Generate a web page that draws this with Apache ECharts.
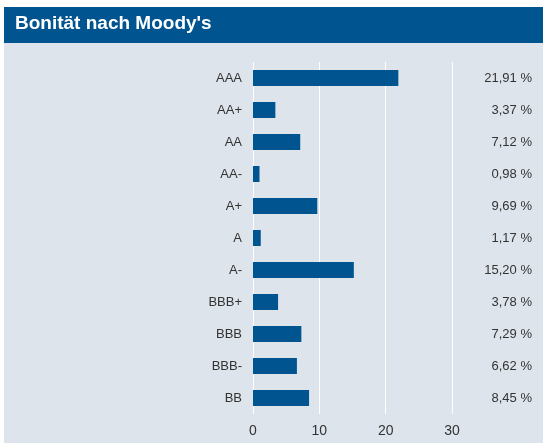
<!DOCTYPE html>
<html>
<head>
<meta charset="utf-8">
<script src="https://cdn.jsdelivr.net/npm/echarts@6/dist/echarts.min.js"></script>
<style>
  html, body { margin: 0; padding: 0; background: #fff; }
  #chart { width: 543px; height: 443px; }
</style>
</head>
<body>
<div id="chart"></div>
<script>
var ratings = ['AAA', 'AA+', 'AA', 'AA-', 'A+', 'A', 'A-', 'BBB+', 'BBB', 'BBB-', 'BB'];
var shares = [21.91, 3.37, 7.12, 0.98, 9.69, 1.17, 15.20, 3.78, 7.29, 6.62, 8.45];
var xTicks = [0, 10, 20, 30];

var chart = echarts.init(document.getElementById('chart'));

function pct(v) {
  return v.toFixed(2).replace('.', ',') + ' %';
}

var option = {
  backgroundColor: '#ffffff',
  graphic: [
    { type: 'rect', left: 4, top: 43, shape: { width: 539, height: 400 }, style: { fill: '#dde4ec' }, z: -10 },
    { type: 'rect', left: 4, top: 7, shape: { width: 539, height: 36 }, style: { fill: '#00548f' }, z: -10 },
    {
      type: 'text', left: 15, top: 14,
      style: { text: 'Bonität nach Moody\'s', fill: '#ffffff', font: 'bold 19px "Liberation Sans Narrow", "Liberation Sans", sans-serif' }
    }
  ],
  grid: { left: 253, right: 91, top: 62, bottom: 29 },
  xAxis: {
    type: 'value',
    min: xTicks[0],
    max: xTicks[xTicks.length - 1],
    interval: 10,
    axisLine: { show: false },
    axisTick: { show: false },
    splitLine: { lineStyle: { color: '#ffffff', width: 1 } },
    axisLabel: { color: '#333', fontSize: 14, margin: 10, fontFamily: '"Liberation Sans Narrow", sans-serif' }
  },
  yAxis: [
    {
      type: 'category',
      data: ratings,
      inverse: true,
      axisLine: { show: false },
      axisTick: { show: false },
      axisLabel: { color: '#333', fontSize: 13, margin: 11, fontFamily: '"Liberation Sans Narrow", sans-serif' }
    },
    {
      type: 'category',
      data: shares.map(pct),
      inverse: true,
      position: 'right',
      axisLine: { show: false },
      axisTick: { show: false },
      axisLabel: { color: '#333', fontSize: 13, margin: 80, align: 'right', fontFamily: '"Liberation Sans Narrow", sans-serif' }
    }
  ],
  series: [{
    type: 'bar',
    data: shares,
    barWidth: 16,
    itemStyle: { color: '#005591' },
    silent: true
  }]
};
chart.setOption(option);
</script>
</body>
</html>
